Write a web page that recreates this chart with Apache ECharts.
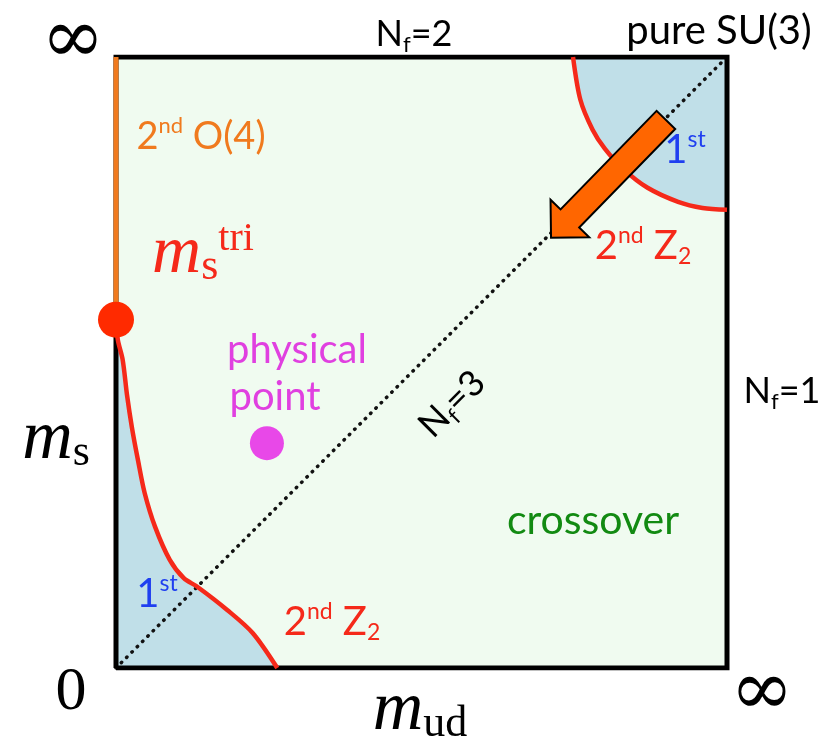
<!DOCTYPE html>
<html><head><meta charset="utf-8">
<script src="https://cdn.jsdelivr.net/npm/echarts@6/dist/echarts.min.js"></script>
<style>html,body{margin:0;padding:0;background:#fff}#c{width:835px;height:738px}</style>
</head><body><div id="c"></div>
<script>
// ---- data (unit square: m_ud on x, m_s on y; 0 .. infinity mapped to 0 .. 1) ----
const boxFrame = [[0,0],[1,0],[1,1],[0,1],[0,0]];
const diagonalNf3 = [[0,0],[1,1]];
const o4Line = [[0,0.57],[0,1]];
const z2LowerCurve = [[0,0.570],[0.003,0.537],[0.011,0.504],[0.018,0.447],[0.026,0.394],[0.036,0.340],[0.047,0.286],[0.064,0.231],[0.088,0.177],[0.111,0.147],[0.133,0.133],[0.182,0.095],[0.224,0.057],[0.264,0]];
const z2UpperArc = [[0.748,1],[0.760,0.930],[0.780,0.881],[0.800,0.850],[0.830,0.817],[0.870,0.786],[0.920,0.763],[0.960,0.753],[1,0.750]];
const tricriticalPoint = [[0,0.57]];
const physicalPoint = [[0.247,0.368]];
const arrowFromTo = [[0.900,0.897],[0.712,0.704]];

const SANS = 'Lato, "Open Sans", sans-serif';
const SERIF = '"Liberation Serif", "DejaVu Serif", serif';
const RED = '#f5291a', BLUE_FILL = '#c0dfe8', GREEN_BG = '#f0fbf0', ORANGE = '#f07a1e';

const chart = echarts.init(document.getElementById('c'));

function richText(x, y, text, rich, extra) {
  return Object.assign({
    type: 'text', x: x, y: y, z: 100,
    style: { text: text, rich: rich, align: 'center', verticalAlign: 'middle' }
  }, extra || {});
}
function tok(size, color, lh, va, font, style) {
  return { fontSize: size, fontFamily: font || SANS, fill: color, color: color, lineHeight: lh, verticalAlign: va, fontStyle: style || 'normal' };
}
function mainTok(size, color, lh, font, style) { return tok(size, color, lh, 'middle', font, style); }
function subTok(size, color, lh, font) { return tok(size, color, lh, 'bottom', font); }
function supTok(size, color, lh, font) { return tok(size, color, lh, 'top', font); }

const INF_FONT = '"DejaVu Serif", serif';
const graphics = [
  richText(73, 42, '{a|∞}', { a: mainTok(76, '#000', 76, INF_FONT) }),
  richText(762, 694, '{a|∞}', { a: mainTok(76, '#000', 76, INF_FONT) }),
  richText(71, 693, '{a|0}', { a: mainTok(62, '#000', 64, SERIF) }),
  richText(414, 34, '{a|N}{b|f}{a|=2}', { a: mainTok(36, '#000', 44), b: subTok(22, '#000', 18) }),
  richText(719, 31, '{a|pure SU(3)}', { a: mainTok(40, '#000', 44) }),
  richText(782, 391, '{a|N}{b|f}{a|=1}', { a: mainTok(36, '#000', 44), b: subTok(22, '#000', 18) }),
  richText(201, 137, '{a|2}{b|nd}{a| O(4)}', { a: mainTok(38, ORANGE, 44), b: supTok(22, ORANGE, 28) }),
  richText(203, 254, '{m|m}{s|s}{t|tri}', {
    m: mainTok(68, RED, 70, SERIF, 'italic'), s: subTok(44, RED, 44, SERIF), t: supTok(40, RED, 32, SERIF)
  }),
  richText(56, 440, '{m|m}{s|s}', { m: mainTok(70, '#000', 70, SERIF, 'italic'), s: subTok(44, '#000', 44, SERIF) }),
  richText(420, 711, '{m|m}{s|ud}', { m: mainTok(70, '#000', 70, SERIF, 'italic'), s: subTok(44, '#000', 44, SERIF) }),
  richText(297, 350, '{a|physical}', { a: mainTok(40, '#e040e0', 44) }),
  richText(275, 397, '{a|point}', { a: mainTok(40, '#e040e0', 44) }),
  richText(593, 521, '{a|crossover}', { a: mainTok(41, '#128a12', 44) }),
  richText(157, 594, '{a|1}{b|st}', { a: mainTok(40, '#1f3ff0', 44), b: supTok(23, '#1f3ff0', 28) }),
  richText(685, 150, '{a|1}{b|st}', { a: mainTok(40, '#1f3ff0', 44), b: supTok(23, '#1f3ff0', 28) }),
  richText(332, 622, '{a|2}{b|nd}{a| Z}{c|2}', { a: mainTok(40, RED, 44), b: supTok(23, RED, 28), c: subTok(23, RED, 18) }),
  richText(643, 246, '{a|2}{b|nd}{a| Z}{c|2}', { a: mainTok(40, RED, 44), b: supTok(23, RED, 28), c: subTok(23, RED, 18) }),
  richText(452, 404, '{a|N}{b|f}{a|=3}', { a: mainTok(36, '#000', 44), b: subTok(22, '#000', 18) }, { rotation: Math.PI / 4 })
];

chart.setOption({
  animation: false,
  grid: { left: 116, top: 57, width: 611, height: 611, show: true, backgroundColor: GREEN_BG, borderWidth: 0 },
  xAxis: { type: 'value', min: 0, max: 1, show: false },
  yAxis: { type: 'value', min: 0, max: 1, show: false },
  series: [
    { type: 'line', data: z2LowerCurve, smooth: 0.3, symbol: 'none', z: 2,
      lineStyle: { width: 0 }, areaStyle: { color: BLUE_FILL, opacity: 1, origin: 'start' } },
    { type: 'line', data: z2UpperArc, smooth: 0.3, symbol: 'none', z: 2,
      lineStyle: { width: 0 }, areaStyle: { color: BLUE_FILL, opacity: 1, origin: 'end' } },
    { type: 'line', data: diagonalNf3, symbol: 'none', z: 3,
      lineStyle: { color: '#111', width: 3.5, type: [0.5, 7], cap: 'round' } },
    { type: 'line', data: boxFrame, symbol: 'none', z: 4,
      lineStyle: { color: '#000', width: 5, join: 'miter' } },
    { type: 'line', data: o4Line, symbol: 'none', z: 5,
      lineStyle: { color: ORANGE, width: 5 } },
    { type: 'line', data: z2LowerCurve, smooth: 0.3, symbol: 'none', z: 6,
      lineStyle: { color: RED, width: 4.5 } },
    { type: 'line', data: z2UpperArc, smooth: 0.3, symbol: 'none', z: 6,
      lineStyle: { color: RED, width: 4.5 } },
    { type: 'scatter', data: tricriticalPoint, symbolSize: 36, z: 7, itemStyle: { color: '#ff2a00', opacity: 1 } },
    { type: 'scatter', data: physicalPoint, symbolSize: 34, z: 7, itemStyle: { color: '#e848e8', opacity: 1 } },
    { type: 'custom', z: 8, data: [arrowFromTo[0].concat(arrowFromTo[1])],
      encode: { x: [0, 2], y: [1, 3] },
      renderItem: function (params, api) {
        const a = api.coord([api.value(0), api.value(1)]);
        const b = api.coord([api.value(2), api.value(3)]);
        const dx = b[0] - a[0], dy = b[1] - a[1];
        const L = Math.sqrt(dx * dx + dy * dy);
        const ux = dx / L, uy = dy / L, nx = -uy, ny = ux;
        const sw = 13, hw = 27, hl = 27;
        const bx = b[0] - ux * hl, by = b[1] - uy * hl;
        const pts = [
          [a[0] + nx * sw, a[1] + ny * sw],
          [bx + nx * sw, by + ny * sw],
          [bx + nx * hw, by + ny * hw],
          [b[0], b[1]],
          [bx - nx * hw, by - ny * hw],
          [bx - nx * sw, by - ny * sw],
          [a[0] - nx * sw, a[1] - ny * sw]
        ];
        return { type: 'polygon', shape: { points: pts }, style: { fill: '#ff6600', stroke: '#000', lineWidth: 2, lineJoin: 'miter' } };
      }
    }
  ],
  graphic: graphics
});
</script></body></html>
